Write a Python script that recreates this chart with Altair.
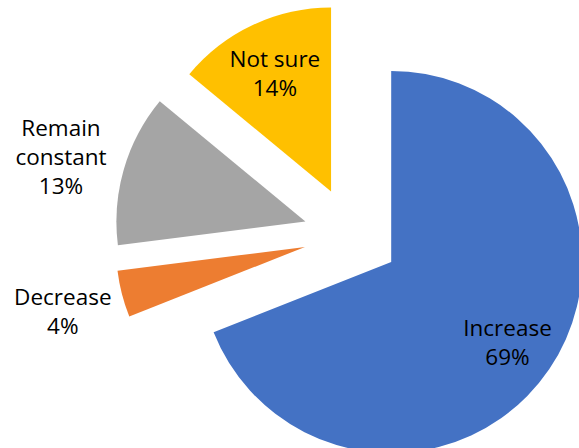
import altair as alt
import pandas as pd

# ---- data ----
categories = ["Increase", "Decrease", "Remain constant", "Not sure"]
label_text = ["Increase", "Decrease", "Remain\nconstant", "Not sure"]
values = [69, 4, 13, 14]
colors = ["#4472C4", "#ED7D31", "#A5A5A5", "#FFC000"]

# ---- layout (pixels / degrees) ----
CX, CY = 351.5, 235     # pie centre before explosion
EXPLODE = 48            # explosion distance of every slice
LINE_H = 29             # label line height
slice_radius = {"Increase": 191, "Decrease": 189, "Remain constant": 189, "Not sure": 184}
label_radius = {"Increase": 190, "Decrease": 299, "Remain constant": 300.5, "Not sure": 178}
label_nudge_deg = {"Increase": 0.6, "Decrease": -0.7, "Remain constant": -1.4, "Not sure": -0.3}

df = pd.DataFrame({
    "category": categories,
    "name": label_text,
    "value": values,
    "order": list(range(len(categories))),
    "r": [slice_radius[c] for c in categories],
    "lr": [label_radius[c] for c in categories],
    "nudge": [label_nudge_deg[c] for c in categories],
    "nlines": [t.count("\n") + 2 for t in label_text],
})

base = (
    alt.Chart(df)
    .transform_joinaggregate(total="sum(value)")
    .transform_window(cum="sum(value)", sort=[alt.SortField("order")], frame=[None, 0])
    .transform_calculate(
        f0="(datum.cum - datum.value) / datum.total",
        f1="datum.cum / datum.total",
        mid="PI * (2 * datum.cum - datum.value) / datum.total",
        lmid="datum.mid + datum.nudge * PI / 180",
        cx=f"{CX} + {EXPLODE} * sin(datum.mid)",
        cy=f"{CY} - {EXPLODE} * cos(datum.mid)",
        lx=f"{CX} + datum.lr * sin(datum.lmid)",
        ly=f"{CY} - datum.lr * cos(datum.lmid) - (datum.nlines - 1) * {LINE_H} / 2",
        lab="datum.name + '\\n' + datum.value + '%'",
    )
)

arcs = base.mark_arc().encode(
    theta=alt.Theta("f0:Q", stack=False,
                    scale=alt.Scale(domain=[0, 1], range=[0, 6.283185307179586])),
    theta2="f1:Q",
    radius=alt.Radius("r:Q", scale=None),
    x=alt.X("cx:Q", scale=None, axis=None),
    y=alt.Y("cy:Q", scale=None, axis=None),
    color=alt.Color("category:N", scale=alt.Scale(domain=categories, range=colors), legend=None),
)

labels = base.mark_text(
    font="Open Sans", fontSize=22.5, lineHeight=LINE_H, lineBreak="\n",
    align="center", baseline="middle", color="#000000",
).encode(
    x=alt.X("lx:Q", scale=None, axis=None),
    y=alt.Y("ly:Q", scale=None, axis=None),
    text="lab:N",
)

chart = (
    alt.layer(arcs, labels)
    .properties(width=579, height=448, padding=0, autosize=alt.AutoSizeParams(type="none"))
    .configure_view(stroke=None)
)

chart.save("out.html", embed_options={"renderer": "svg", "actions": False})
